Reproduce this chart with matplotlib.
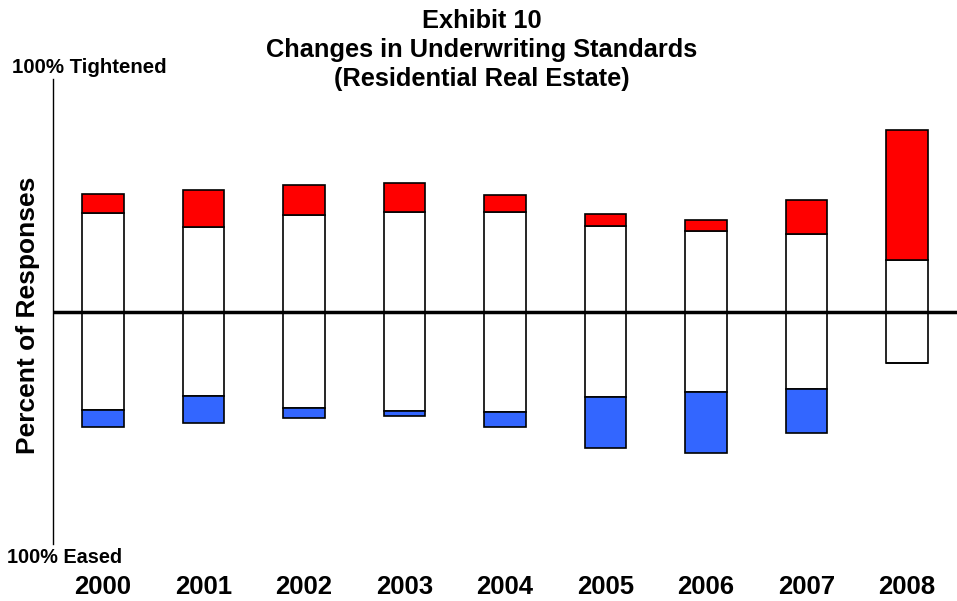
import matplotlib
matplotlib.use("Agg")
import matplotlib.pyplot as plt
import numpy as np

plt.rcParams['font.family'] = ['Liberation Sans', 'DejaVu Sans']

# Survey responses by year (percent of respondents)
years = ["2000", "2001", "2002", "2003", "2004", "2005", "2006", "2007", "2008"]
tightened = [8.4, 16.0, 13.0, 12.5, 7.2, 5.1, 4.8, 14.7, 56.0]
unchanged = [84.5, 72.5, 83.0, 85.5, 86.0, 73.5, 69.5, 66.5, 44.5]
eased = [7.5, 11.5, 4.2, 2.1, 6.8, 21.9, 26.0, 19.2, 0.0]

title_lines = ["Exhibit 10", "Changes in Underwriting Standards", "(Residential Real Estate)"]

W, H = 957, 601
fig = plt.figure(figsize=(W / 100, H / 100), dpi=100)
ax = fig.add_axes([0.0551, 0.0948, 0.945, 0.7737])

x = np.arange(len(years))
half = np.array(unchanged) / 2.0
t = np.array(tightened)
e = np.array(eased)
w = 0.415
edge = dict(edgecolor="black", linewidth=1.2)

# Unchanged responses split evenly around zero
ax.bar(x, half, width=w, bottom=0, color="white", **edge)
ax.bar(x, -half, width=w, bottom=0, color="white", **edge)
# Tightened stacked above, eased stacked below
ax.bar(x, t, width=w, bottom=half, color="#FF0000", **edge)
ax.bar(x, -e, width=w, bottom=-half, color="#3366FF", **edge)

ax.axhline(0, color="black", linewidth=2.5, zorder=5)

ax.set_xlim(-0.5, 8.5)
ax.set_ylim(-100, 100)
for s in ["top", "right", "bottom"]:
    ax.spines[s].set_visible(False)
ax.spines["left"].set_linewidth(1.0)
ax.set_yticks([])
ax.set_xticks(x)
ax.set_xticklabels(years, fontsize=18.5, fontweight="bold")
ax.tick_params(axis="x", length=0, pad=22)

fig.text(28 / W, 1 - 315 / H, "Percent of Responses", rotation=90, ha="center",
         va="center", fontsize=19, fontweight="bold")

# Three-line title, each line on its own baseline
for line, base in zip(title_lines, [28, 57, 86]):
    fig.text(482 / W, 1 - base / H, line, ha="center", va="baseline",
             fontsize=18.3, fontweight="bold")

fig.text(12 / W, 1 - 73.3 / H, "100% Tightened", ha="left", va="baseline",
         fontsize=14.7, fontweight="bold")
fig.text(7 / W, 1 - 563 / H, "100% Eased", ha="left", va="baseline",
         fontsize=14.3, fontweight="bold")

fig.savefig("out.png", dpi=100, facecolor="white")
